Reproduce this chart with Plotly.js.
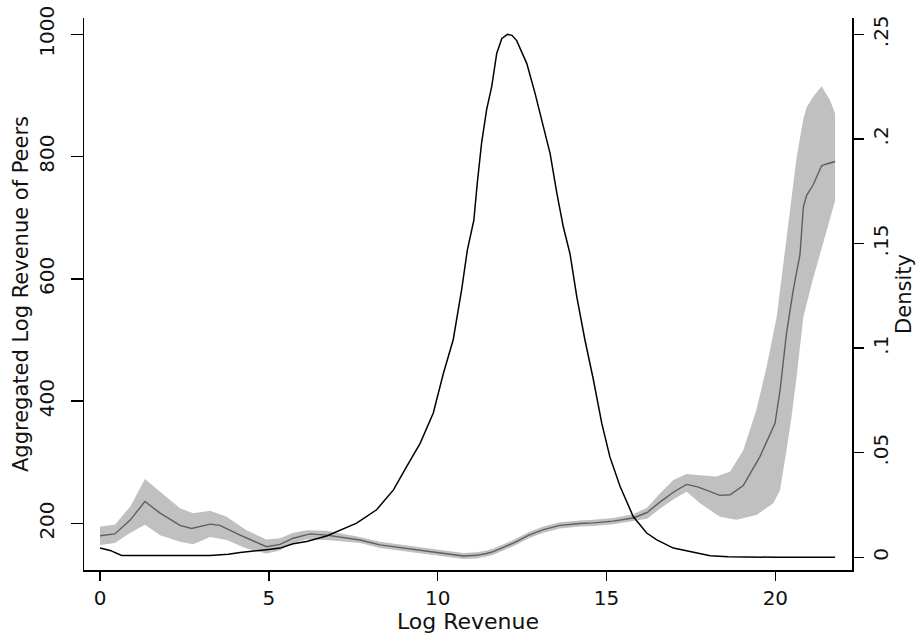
<!DOCTYPE html>
<html>
<head>
<meta charset="utf-8">
<script src="https://cdn.plot.ly/plotly-3.0.1.min.js"></script>
<style>html,body{margin:0;padding:0;background:#fff;}#chart{width:923px;height:636px;}</style>
</head>
<body>
<div id="chart"></div>
<script>
// Mean of aggregated log revenue of peers
const meanX = [0,0.44,0.9,1.33,1.78,2.37,2.71,3.26,3.55,4.15,4.93,5.33,5.72,6.22,6.71,7.3,7.7,8.29,8.68,9.28,9.67,10.2,10.76,11.15,11.45,11.65,12.24,12.7,13.13,13.62,14.21,14.61,15.2,15.79,16.2,16.58,17.0,17.37,17.7,18.06,18.36,18.66,19.05,19.54,19.99,20.14,20.33,20.53,20.73,20.83,20.93,21.12,21.37,21.52,21.77];
const meanY = [180,183,206,236,217,197,192,199,197,181,162,166,176,183,181,176,173,165,162,157,155,151,147,148,151,154,168,181,190,197,200,201,204,209,218,235,252,264,260,252,246,247,262,309,364,418,511,582,640,718,737,754,785,788,792];

// Upper confidence bound
const upperX = [0,0.44,0.9,1.33,1.78,2.37,2.76,3.26,3.75,4.34,4.93,5.33,5.72,6.12,6.71,7.7,8.29,8.68,9.28,9.67,10.2,10.76,11.15,11.45,11.65,12.24,12.7,13.13,13.62,14.21,14.61,15.2,15.79,16.2,16.58,16.98,17.37,17.77,18.26,18.66,19.05,19.44,19.74,20.04,20.29,20.48,20.63,20.83,20.93,21.12,21.37,21.62,21.77];
const upperY = [195,198,228,273,252,225,217,221,211,189,174,176,185,189,188,178,170,167,162,160,156,152,153,156,159,173,186,195,202,205,206,209,215,226,249,271,281,279,277,285,320,386,456,538,647,728,799,862,881,898,915,892,870];

// Lower confidence bound
const lowerX = [0,0.44,0.9,1.33,1.78,2.37,2.76,3.26,3.75,4.34,4.93,5.33,5.72,6.12,6.71,7.7,8.29,8.68,9.28,9.67,10.2,10.76,11.15,11.45,11.65,12.24,12.7,13.13,13.62,14.21,14.61,15.2,15.79,16.2,16.58,17.0,17.37,17.77,18.36,18.85,19.44,19.94,20.14,20.33,20.48,20.63,20.83,21.12,21.32,21.62,21.77];
const lowerY = [165,168,185,198,181,170,166,178,173,159,151,156,168,174,173,168,160,157,152,150,146,142,143,146,149,163,176,185,192,195,196,199,204,208,224,240,252,233,211,206,214,233,255,320,375,440,538,601,640,700,728];

// Kernel density of log revenue (right axis)
const densX = [0,0.3,0.64,1.5,2.5,3.26,3.8,4.15,4.93,5.33,5.72,6.12,6.71,7.6,8.19,8.69,9.08,9.48,9.87,10.17,10.46,10.71,10.88,11.07,11.18,11.3,11.45,11.6,11.75,11.9,12.07,12.2,12.34,12.64,12.88,13.13,13.33,13.53,13.72,13.92,14.12,14.36,14.61,14.86,15.1,15.4,15.79,16.19,16.49,16.98,17.57,18.07,18.6,19.25,20,21,21.77];
const densY = [0.0044,0.0033,0.0009,0.0008,0.0008,0.0009,0.0015,0.0023,0.0036,0.0044,0.0065,0.0076,0.0102,0.0163,0.0227,0.0322,0.0434,0.0545,0.069,0.088,0.104,0.128,0.147,0.161,0.180,0.198,0.214,0.225,0.241,0.248,0.25,0.2495,0.247,0.236,0.222,0.206,0.193,0.174,0.158,0.145,0.1245,0.104,0.085,0.064,0.048,0.034,0.0195,0.0116,0.0083,0.0044,0.0023,0.0007,0.0003,0,0,0,0];

const xTicks = [0,5,10,15,20];
const yTicks = [200,400,600,800,1000];
const y2Ticks = [0,0.05,0.1,0.15,0.2,0.25];
const y2TickText = ['0','.05','.1','.15','.2','.25'];

const band = {
  x: upperX.concat(lowerX.slice().reverse()),
  y: upperY.concat(lowerY.slice().reverse()),
  type: 'scatter', mode: 'lines', fill: 'toself',
  fillcolor: '#c0c0c0', line: {width: 0, color: '#c0c0c0'},
  hoverinfo: 'skip', showlegend: false
};
const meanLine = {
  x: meanX, y: meanY, type: 'scatter', mode: 'lines',
  line: {color: '#5e5e5e', width: 1.4}, showlegend: false
};
const density = {
  x: densX, y: densY, type: 'scatter', mode: 'lines', yaxis: 'y2',
  line: {color: '#000000', width: 1.5}, showlegend: false
};

const axisCommon = {
  showgrid: false, zeroline: false, showline: true,
  linecolor: '#000', linewidth: 1.5,
  ticks: 'outside', tickcolor: '#000', tickwidth: 1.5
};

const layout = {
  width: 923, height: 636,
  margin: {l: 84, r: 71, t: 18, b: 66, pad: 0},
  paper_bgcolor: '#fff', plot_bgcolor: '#fff',
  font: {family: 'DejaVu Sans', size: 20, color: '#111'},
  showlegend: false,
  xaxis: Object.assign({}, axisCommon, {
    range: [-0.474, 22.27], tickmode: 'array', tickvals: xTicks,
    ticklen: 9, tickfont: {size: 20},
    title: {text: 'Log Revenue', font: {size: 22}, standoff: 0}
  }),
  yaxis: Object.assign({}, axisCommon, {
    range: [124, 1026.7], tickmode: 'array', tickvals: yTicks,
    tickangle: -90, ticklen: 12, tickfont: {size: 20}, ticklabelstandoff: 9,
    title: {text: 'Aggregated Log Revenue of Peers', font: {size: 21}, standoff: 0}
  }),
  yaxis2: Object.assign({}, axisCommon, {
    overlaying: 'y', side: 'right', anchor: 'x',
    range: [-0.00607, 0.2578], tickmode: 'array', tickvals: y2Ticks, ticktext: y2TickText,
    tickangle: -90, ticklen: 10, tickfont: {size: 20},
    title: {text: 'Density', font: {size: 21}, standoff: 0}
  })
};

Plotly.newPlot('chart', [band, meanLine, density], layout, {displayModeBar: false, staticPlot: true});
</script>
</body>
</html>
